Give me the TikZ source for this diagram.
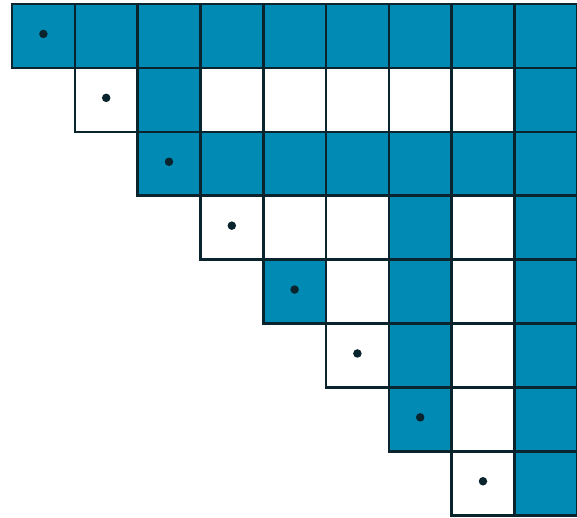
\documentclass[tikz,border=0pt]{standalone}
\usepackage{xcolor}
\usepackage{tikz}

\definecolor{cellblue}{RGB}{0,138,180}
\definecolor{gridline}{RGB}{10,36,46}

\begin{document}
\begin{tikzpicture}[x=1pt, y=1pt,
    cell/.style={draw=gridline, line width=2.6pt, fill=white, inner sep=0pt,
        minimum width=62.8pt, minimum height=63.9pt},
    filled/.style={cell, fill=cellblue},
    dot/.style={circle, fill=gridline, inner sep=0pt, minimum size=8.5pt}]
    \useasboundingbox (0,0) rectangle (577,-517);
    % triangle of empty cells
    \foreach \r in {0,...,7} {
        \foreach \c in {\r,...,8} {
            \node[cell] (c-\r-\c) at ({12+62.8*(\c+0.5)}, {-4-63.9*(\r+0.5)}) {};
        }
    }
    % coloured cells
    \foreach \r/\cols in {0/{0,1,2,3,4,5,6,7,8}, 1/{2,8}, 2/{2,3,4,5,6,7,8},
        3/{6,8}, 4/{4,6,8}, 5/{6,8}, 6/{6,8}, 7/{8}} {
        \foreach \c in \cols {
            \node[filled] (f-\r-\c) at (c-\r-\c) {};
        }
    }
    % dots on the diagonal
    \foreach \r in {0,...,7} {
        \node[dot, yshift=2pt] (d-\r) at (c-\r-\r) {};
    }
\end{tikzpicture}
\end{document}
